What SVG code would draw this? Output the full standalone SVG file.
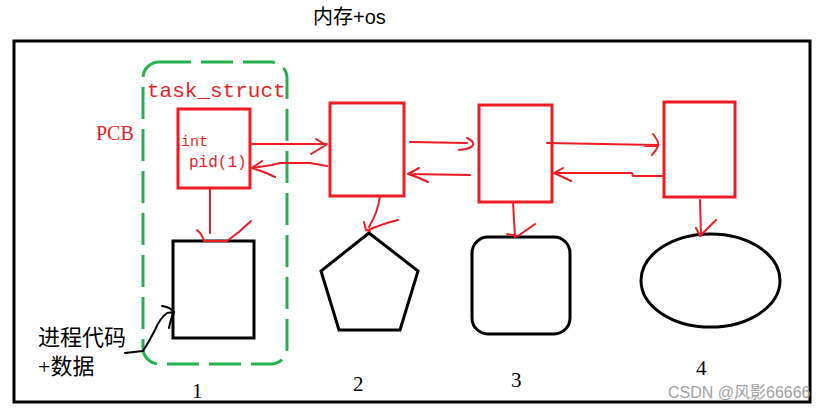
<svg xmlns="http://www.w3.org/2000/svg" width="829" height="411" viewBox="0 0 829 411">
<style>
.red{fill:none;stroke:#ed1c24;stroke-width:3}
.rl{fill:none;stroke:#ed1c24;stroke-width:2;stroke-linecap:round;stroke-linejoin:round}
.blk{fill:none;stroke:#000;stroke-width:3}
.t{font-family:"Liberation Serif","Noto Sans CJK SC",serif;fill:#000}
.mono{font-family:"Liberation Mono","DejaVu Sans Mono",monospace;fill:#ed1c24}
</style>
<rect width="829" height="411" fill="#fff"/>
<text class="t" x="313" y="24" font-size="20">内存<tspan font-family="Liberation Sans, sans-serif">+os</tspan></text>
<rect id="memory" x="14" y="41" width="796" height="361" fill="none" stroke="#000" stroke-width="3"/>
<g id="task_struct">
<rect x="143" y="62" width="144" height="302" rx="16" fill="none" stroke="#22b14c" stroke-width="3" stroke-dasharray="32 10"/>
<text class="mono" x="147" y="97" font-size="21">task_struct</text>
</g>
<text id="pcb_label" x="96" y="140" font-size="20" fill="#ed1c24" font-family="Liberation Serif, serif">PCB</text>
<g id="pcb1">
<rect class="red" x="178" y="109" width="72" height="79"/>
<text class="mono" x="181" y="146" font-size="15">int</text>
<text class="mono" x="189" y="167" font-size="16">pid(1)</text>
</g>
<g id="pcb2"><rect class="red" x="330" y="103" width="74" height="93"/></g>
<g id="pcb3"><rect class="red" x="479" y="105" width="73" height="97"/></g>
<g id="pcb4"><rect class="red" x="664" y="102" width="71" height="95"/></g>
<g id="data1"><rect class="blk" x="173" y="241" width="81" height="97"/></g>
<g id="data2"><polygon class="blk" points="369,233 418,271 400,330 339,330 321,271"/></g>
<g id="data3"><rect class="blk" x="472" y="237" width="98" height="97" rx="16"/></g>
<g id="data4"><ellipse class="blk" cx="710.5" cy="280.5" rx="69.5" ry="46.5"/></g>
<g id="labels" class="t" font-size="21">
<text x="192" y="398">1</text>
<text x="353" y="391">2</text>
<text x="511" y="387">3</text>
<text x="696" y="375">4</text>
<text x="38" y="345" font-size="22">进程代码</text>
<text x="38" y="374" font-size="22">+数据</text>
</g>
<g id="connectors">
<path class="rl" d="M250,144 L327,144 M316,139 L326,145 L311,154"/>
<path class="rl" d="M327,166 L310,163 L280,163 L272,165 L252,168 M262,161 L252,168 Q265,172 275,177"/>
<path class="rl" d="M410,142 L467,143 M467,138 Q474,141 473,145 Q471,149 459,150"/>
<path class="rl" d="M470,175 L408,174 M419,168 L408,174 Q418,177 428,182"/>
<path class="rl" d="M547,143 L657,145 M653,134 Q660,143 658,146 Q656,151 652,155 M645,146 L657,146"/>
<path class="rl" d="M664,176 L633,176 L632,173 L554,173 M563,168 L554,173 Q563,177 571,181"/>
<path class="rl" d="M210,188 L210,233 M197,230 Q202,234 204,241 L227,241 Q240,232 251,221"/>
<path class="rl" d="M380,196 Q378,212 369,227 M364,222 L366,230 L370,231 M398,220 Q385,223 368,230"/>
<path class="rl" d="M513,202 L515,237 M507,234 L518,236 L535,224"/>
<path class="rl" d="M700,200 L701,236 M696,228 L700,236 L716,220"/>
<path d="M125,353 L143,351 Q150,340 155,330 Q160,318 167,313 L174,312 M162,306 Q170,307 174,312 Q171,318 169,328" fill="none" stroke="#000" stroke-width="2" stroke-linecap="round" stroke-linejoin="round"/>
</g>
<text x="668" y="398" font-size="16" font-family="Liberation Sans, Noto Sans CJK SC, sans-serif" fill="#a0a0a0">CSDN @风影66666</text>
</svg>
